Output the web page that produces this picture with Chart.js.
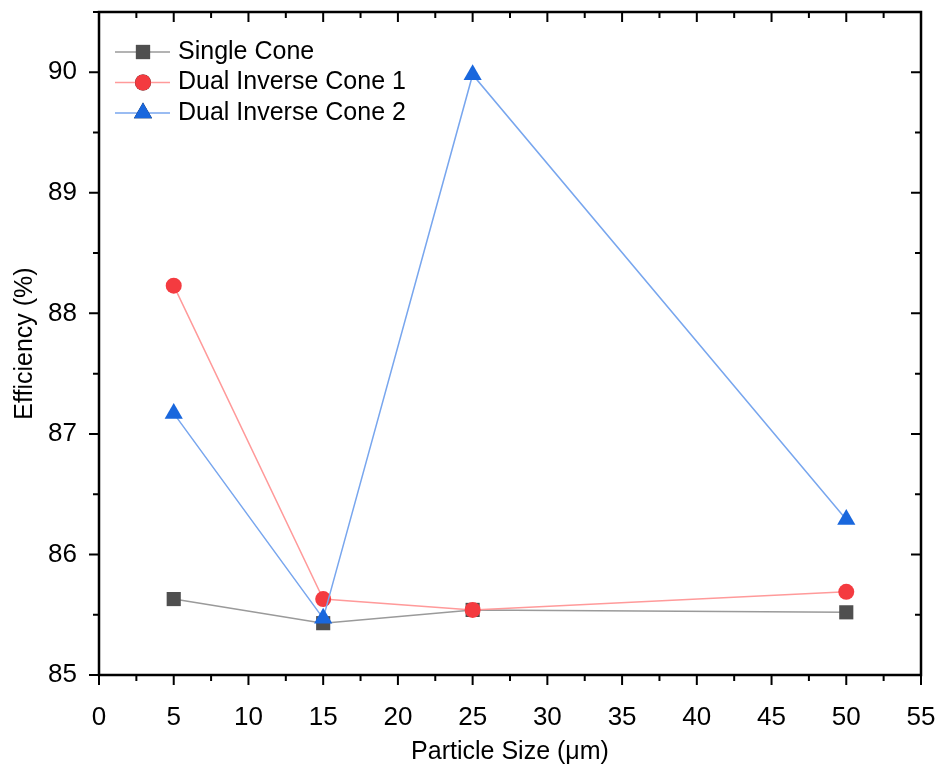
<!DOCTYPE html>
<html>
<head>
<meta charset="utf-8">
<script src="https://cdn.jsdelivr.net/npm/chart.js@4.4.0/dist/chart.umd.min.js"></script>
<style>
  html, body { margin: 0; padding: 0; background: #fff; }
  #wrap { width: 941px; height: 773px; }
</style>
</head>
<body>
<div id="wrap"><canvas id="eff"></canvas></div>
<script>
// particle sizes (um)
const sizes = [5, 15, 25, 50];
const singleCone = [85.63, 85.43, 85.54, 85.52];
const dualCone1 = [88.23, 85.63, 85.54, 85.69];
const dualCone2 = [87.17, 85.47, 89.98, 86.29];
const xTicks = [0, 5, 10, 15, 20, 25, 30, 35, 40, 45, 50, 55];
const yTicks = [85, 86, 87, 88, 89, 90];

const FONT = 'Arial, "Liberation Sans", sans-serif';

function pts(vals) {
  return sizes.map((s, i) => ({ x: s, y: vals[i] }));
}

const series = [
  { label: 'Single Cone', data: singleCone, line: '#9a9a9a', mark: '#4f4f4f', style: 'rect', r: 10 },
  { label: 'Dual Inverse Cone 1', data: dualCone1, line: '#ff9a9a', mark: '#f43b40', style: 'circle', r: 8 },
  { label: 'Dual Inverse Cone 2', data: dualCone2, line: '#78a6ee', mark: '#1967dd', style: 'triangle', r: 10.5 }
];

// frame, ticks on all four sides, legend
const framePlugin = {
  id: 'frame',
  afterDraw(chart) {
    const { ctx, chartArea: a, scales: { x, y } } = chart;
    ctx.save();
    ctx.strokeStyle = '#000';
    ctx.lineWidth = 2.5;
    ctx.strokeRect(a.left, a.top, a.right - a.left, a.bottom - a.top);
    ctx.lineWidth = 2;
    ctx.beginPath();
    for (let v = 0; v <= 55.001; v += 2.5) {
      const px = x.getPixelForValue(v);
      const len = (v % 5 === 0) ? 10 : 6;
      ctx.moveTo(px, a.bottom); ctx.lineTo(px, a.bottom + len);
      ctx.moveTo(px, a.top); ctx.lineTo(px, a.top + len);
    }
    for (let v = 85; v <= 90.501; v += 0.5) {
      const py = y.getPixelForValue(v);
      const len = (v % 1 === 0) ? 10 : 6;
      ctx.moveTo(a.left, py); ctx.lineTo(a.left - len, py);
      ctx.moveTo(a.right, py); ctx.lineTo(a.right - len, py);
    }
    ctx.stroke();

    // legend
    ctx.font = '25px ' + FONT;
    ctx.textBaseline = 'middle';
    ctx.fillStyle = '#000';
    series.forEach((s, i) => {
      const ly = 52 + i * 30.5;
      ctx.strokeStyle = s.line;
      ctx.lineWidth = 1.5;
      ctx.beginPath();
      ctx.moveTo(115, ly); ctx.lineTo(170, ly);
      ctx.stroke();
      Chart.helpers.drawPoint(ctx, { pointStyle: s.style, radius: s.r, borderWidth: 0, rotation: 0 }, 143, ly);
      ctx.fillStyle = s.mark;
      ctx.fill();
      ctx.fillStyle = '#000';
      ctx.fillText(s.label, 178, ly);
    });
    ctx.restore();
  }
};

function noPad(s) {
  s.paddingTop = 0; s.paddingBottom = 0; s.paddingLeft = 0; s.paddingRight = 0;
}

const ctx = document.getElementById('eff').getContext('2d');
new Chart(ctx, {
  type: 'line',
  data: {
    datasets: series.map((s, i) => ({
      label: s.label,
      data: pts(s.data),
      order: series.length - i,  // later series on top
      borderColor: s.line,
      borderWidth: 1.5,
      pointStyle: s.style,
      pointRadius: s.r,
      pointHoverRadius: s.r,
      pointBackgroundColor: s.mark,
      pointBorderColor: s.mark,
      pointBorderWidth: 0,
      tension: 0
    }))
  },
  options: {
    responsive: true,
    maintainAspectRatio: false,
    animation: false,
    events: [],
    layout: { padding: { top: 12, right: 20, left: 0, bottom: 0 } },
    plugins: {
      legend: { display: false },
      tooltip: { enabled: false }
    },
    scales: {
      x: {
        type: 'linear',
        min: 0,
        max: 55,
        afterFit: s => { s.height = 98; noPad(s); },
        afterBuildTicks: s => { s.ticks = xTicks.map(v => ({ value: v })); },
        grid: { display: false },
        border: { display: false },
        ticks: { color: '#000', font: { size: 26, family: FONT }, padding: 19, maxRotation: 0 },
        title: { display: true, text: 'Particle Size (\u03bcm)', color: '#000', font: { size: 25, family: FONT }, padding: { top: 0, bottom: 6 } }
      },
      y: {
        min: 85,
        max: 90.5,
        afterFit: s => { s.width = 99; noPad(s); },
        afterBuildTicks: s => { s.ticks = yTicks.map(v => ({ value: v })); },
        grid: { display: false },
        border: { display: false },
        ticks: { color: '#000', font: { size: 26, family: FONT }, padding: 14 },
        title: { display: true, text: 'Efficiency (%)', color: '#000', font: { size: 25, family: FONT }, padding: { top: 10, bottom: 0 } }
      }
    }
  },
  plugins: [framePlugin]
});
</script>
</body>
</html>
